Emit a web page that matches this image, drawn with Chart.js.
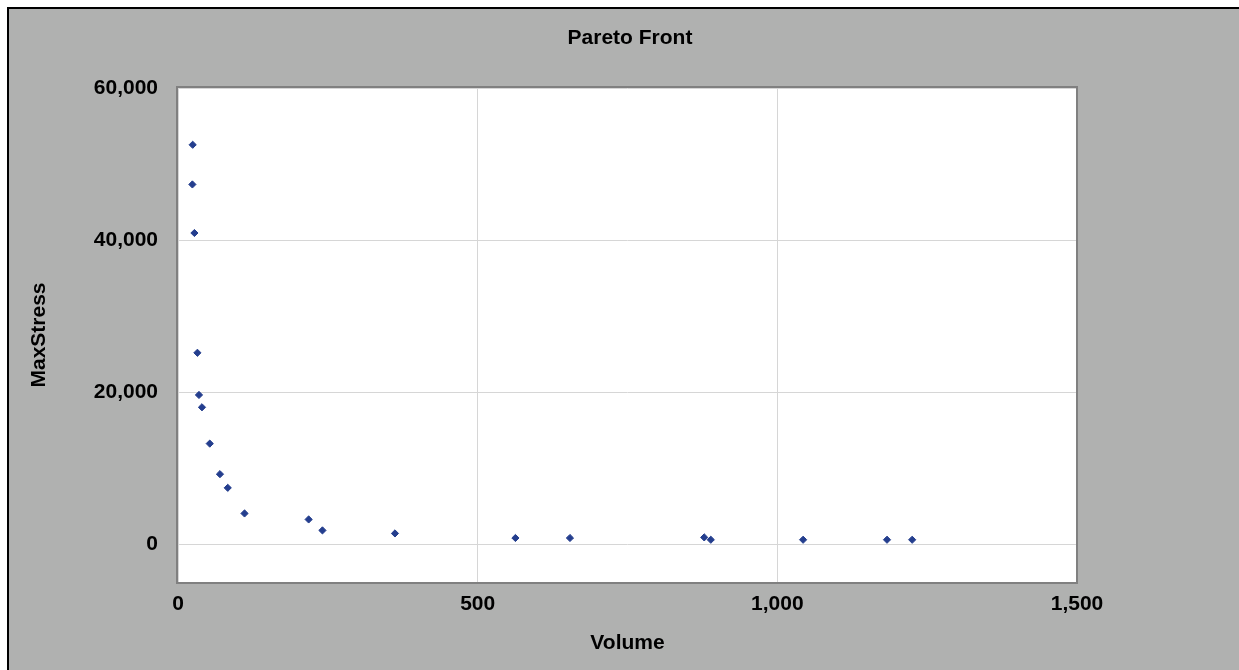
<!DOCTYPE html>
<html>
<head>
<meta charset="utf-8">
<title>Pareto Front</title>
<script src="https://cdn.jsdelivr.net/npm/chart.js@4/dist/chart.umd.min.js"></script>
<style>
  html, body { margin: 0; padding: 0; background: #ffffff; }
  #wrap { width: 1239px; height: 670px; }
</style>
</head>
<body>
<div id="wrap"><canvas id="chart" width="1239" height="670"></canvas></div>
<script>
// Pareto front samples: volume vs. maximum stress
const volume = [24.5, 24, 27.4, 32.4, 35, 40, 53, 70, 83, 111, 218, 241, 362, 563, 654, 878, 889, 1043, 1183, 1225];
const maxStress = [52530, 47310, 40920, 25160, 19610, 17990, 13210, 9190, 7390, 4020, 3230, 1790, 1390, 790, 790, 870, 560, 560, 560, 560];

const xTicks = [0, 500, 1000, 1500];
const yTicks = [0, 20000, 40000, 60000];

const chartTitle = 'Pareto Front';
const xTitle = 'Volume';
const yTitle = 'MaxStress';

const points = volume.map((v, i) => ({ x: v, y: maxStress[i] }));

const FONT = 'Liberation Sans, Arial, sans-serif';

// Gray panel with a dark top/left edge behind everything, plus the plot frame
const panel = {
  id: 'panel',
  beforeDraw(chart) {
    const { ctx, width, height } = chart;
    ctx.save();
    ctx.fillStyle = '#ffffff';
    ctx.fillRect(0, 0, width, height);
    ctx.fillStyle = '#b0b1b0';
    ctx.fillRect(7, 7, width - 7, height - 7);
    ctx.fillStyle = '#000000';
    ctx.fillRect(7, 7, width - 7, 2);
    ctx.fillRect(7, 7, 2, height - 7);
    const a = chart.chartArea;
    ctx.fillStyle = '#ffffff';
    ctx.fillRect(a.left, a.top, a.right - a.left, a.bottom - a.top);
    ctx.restore();
  },
  afterDatasetsDraw(chart) {
    const { ctx } = chart;
    const a = chart.chartArea;
    ctx.save();
    ctx.strokeStyle = '#808080';
    ctx.lineWidth = 2;
    ctx.strokeRect(a.left - 1, a.top - 1, a.right - a.left + 1, a.bottom - a.top + 2);
    ctx.restore();
  }
};

new Chart(document.getElementById('chart'), {
  type: 'scatter',
  data: {
    datasets: [{
      label: yTitle,
      data: points,
      pointStyle: 'rectRot',
      pointRadius: 3.6,
      pointHoverRadius: 3.6,
      pointBackgroundColor: '#243e8e',
      pointBorderColor: '#243e8e',
      pointBorderWidth: 1
    }]
  },
  options: {
    responsive: false,
    animation: false,
    events: [],
    layout: { padding: { left: 21, top: 0, right: 0, bottom: 0 } },
    plugins: {
      legend: { display: false },
      tooltip: { enabled: false },
      title: {
        display: true,
        text: chartTitle,
        color: '#000000',
        font: { family: FONT, size: 21, weight: 'bold', lineHeight: 1.2 },
        padding: { top: 26, bottom: 36.8 }
      }
    },
    scales: {
      x: {
        type: 'linear',
        min: 0,
        max: 1500,
        afterFit(scale) { scale.height = 88; },
        afterBuildTicks(scale) { scale.ticks = xTicks.map(v => ({ value: v })); },
        border: { display: false },
        grid: { color: '#d6d6d6', lineWidth: 1, drawTicks: false },
        ticks: {
          padding: 10,
          color: '#000000',
          font: { family: FONT, size: 21, weight: 'bold' },
          maxRotation: 0,
          callback: v => Number(v).toLocaleString('en-US')
        },
        title: {
          display: true,
          text: xTitle,
          color: '#000000',
          font: { family: FONT, size: 21, weight: 'bold', lineHeight: 1.2 },
          padding: { top: 0, bottom: 14.4 }
        }
      },
      y: {
        type: 'linear',
        min: -5000,
        max: 60000,
        afterFit(scale) { scale.width = 157; },
        afterBuildTicks(scale) { scale.ticks = yTicks.map(v => ({ value: v })); },
        border: { display: false },
        grid: { color: '#d6d6d6', lineWidth: 1, drawTicks: false },
        ticks: {
          padding: 20,
          color: '#000000',
          font: { family: FONT, size: 21, weight: 'bold' },
          callback: v => Number(v).toLocaleString('en-US')
        },
        title: {
          display: true,
          text: yTitle,
          color: '#000000',
          font: { family: FONT, size: 21, weight: 'bold', lineHeight: 1.2 },
          padding: { top: 5.4, bottom: 0 }
        }
      },
      // empty right-hand margin beside the plot
      yRight: {
        type: 'linear',
        position: 'right',
        afterFit(scale) { scale.width = 162; },
        border: { display: false },
        grid: { display: false, drawTicks: false },
        ticks: { display: false }
      }
    }
  },
  plugins: [panel]
});
</script>
</body>
</html>
